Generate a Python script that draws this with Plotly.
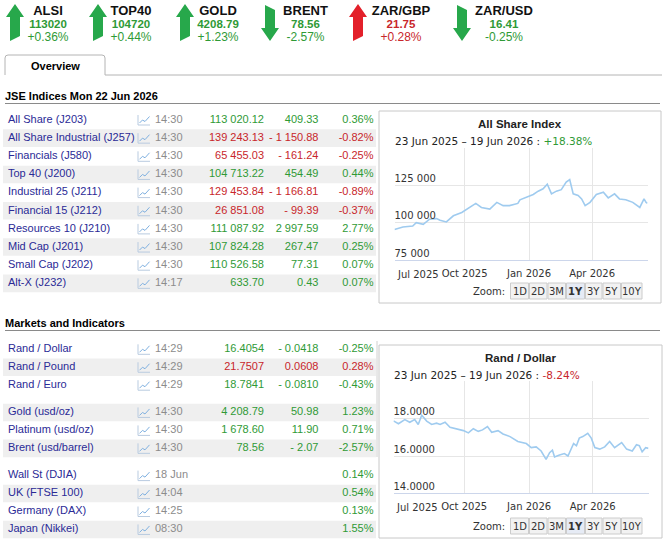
import plotly.graph_objects as go

W, H = 667, 543
PAGE_FONT = "Liberation Sans, Arial, sans-serif"
CHART_FONT = "DejaVu Sans, Verdana, sans-serif"
GREEN = "#2f9a36"
RED = "#c8262b"
NAVY = "#2a2a96"
GREY = "#8c8c8c"
BAND = "#efefef"
ARROW_GREEN = "#27a84b"
ARROW_RED = "#e3202a"

# ticker strip
ticker_names = ["ALSI", "TOP40", "GOLD", "BRENT", "ZAR/GBP", "ZAR/USD"]
ticker_prices = [113020, 104720, 4208.79, 78.56, 21.75, 16.41]
ticker_pcts = [0.36, 0.44, 1.23, -2.57, 0.28, -0.25]
ticker_good = [True, True, True, True, False, True]

# JSE indices
jse_names = ["All Share (J203)", "All Share Industrial (J257)", "Financials (J580)",
             "Top 40 (J200)", "Industrial 25 (J211)", "Financial 15 (J212)",
             "Resources 10 (J210)", "Mid Cap (J201)", "Small Cap (J202)", "Alt-X (J232)"]
jse_times = ["14:30", "14:30", "14:30", "14:30", "14:30", "14:30", "14:30", "14:30", "14:30", "14:17"]
jse_values = [113020.12, 139243.13, 65455.03, 104713.22, 129453.84, 26851.08,
              111087.92, 107824.28, 110526.58, 633.70]
jse_changes = [409.33, -1150.88, -161.24, 454.49, -1166.81, -99.39, 2997.59, 267.47, 77.31, 0.43]
jse_pcts = [0.36, -0.82, -0.25, 0.44, -0.89, -0.37, 2.77, 0.25, 0.07, 0.07]

# markets and indicators
mkt_names = ["Rand / Dollar", "Rand / Pound", "Rand / Euro", "Gold (usd/oz)", "Platinum (usd/oz)",
             "Brent (usd/barrel)", "Wall St (DJIA)", "UK (FTSE 100)", "Germany (DAX)", "Japan (Nikkei)"]
mkt_group = [0, 0, 0, 1, 1, 1, 2, 2, 2, 2]
mkt_times = ["14:29", "14:29", "14:29", "14:30", "14:30", "14:30", "18 Jun", "14:04", "14:25", "08:30"]
mkt_values = [16.4054, 21.7507, 18.7841, 4208.79, 1678.60, 78.56, None, None, None, None]
mkt_changes = [-0.0418, 0.0608, -0.0810, 50.98, 11.90, -2.07, None, None, None, None]
mkt_decimals = [4, 4, 4, 2, 2, 2, 2, 2, 2, 2]
mkt_pcts = [-0.25, 0.28, -0.43, 1.23, 0.71, -2.57, 0.14, 0.54, 0.13, 1.55]
mkt_good = [True, False, True, True, True, True, True, True, True, True]

# All Share Index, 1Y
alsi_dates = ["2025-06-23", "2025-07-05", "2025-07-19", "2025-07-24", "2025-08-03", "2025-08-12",
              "2025-08-22", "2025-08-27", "2025-09-05", "2025-09-15", "2025-09-27", "2025-10-08",
              "2025-10-17", "2025-10-25", "2025-11-06", "2025-11-16", "2025-11-25", "2025-12-04",
              "2025-12-16", "2025-12-19", "2025-12-28", "2026-01-07", "2026-01-14", "2026-01-21",
              "2026-01-27", "2026-02-02", "2026-02-09", "2026-02-16", "2026-02-23", "2026-02-28",
              "2026-03-05", "2026-03-12", "2026-03-17", "2026-03-22", "2026-03-29", "2026-04-07",
              "2026-04-17", "2026-04-24", "2026-05-03", "2026-05-10", "2026-05-19", "2026-05-29",
              "2026-06-08", "2026-06-14", "2026-06-17", "2026-06-19"]
alsi_values = [95470, 97070, 97750, 100000, 98900, 102300, 102700, 101600, 100500, 104600,
               106800, 110200, 112900, 110200, 109100, 113600, 111400, 111400, 112900, 115300,
               117000, 118900, 121100, 122700, 125700, 119300, 121100, 122100, 127200, 128900,
               119300, 118200, 115900, 111400, 113600, 118900, 120400, 116600, 119300, 115900,
               115300, 113600, 110200, 115900, 113600, 113020]
alsi_change = 18.38

# Rand / Dollar, 1Y
zar_dates = ["2025-06-23", "2025-06-30", "2025-07-09", "2025-07-16", "2025-07-23", "2025-07-28",
             "2025-08-02", "2025-08-09", "2025-08-16", "2025-08-23", "2025-08-28", "2025-09-04",
             "2025-09-11", "2025-09-21", "2025-09-30", "2025-10-07", "2025-10-14", "2025-10-21",
             "2025-10-27", "2025-11-03", "2025-11-09", "2025-11-18", "2025-11-25", "2025-12-05",
             "2025-12-16", "2025-12-28", "2026-01-04", "2026-01-11", "2026-01-18", "2026-01-25",
             "2026-01-30", "2026-02-03", "2026-02-06", "2026-02-13", "2026-02-20", "2026-02-25",
             "2026-03-02", "2026-03-05", "2026-03-09", "2026-03-13", "2026-03-18", "2026-03-25",
             "2026-03-30", "2026-04-04", "2026-04-11", "2026-04-18", "2026-04-25", "2026-05-02",
             "2026-05-12", "2026-05-19", "2026-05-27", "2026-06-02", "2026-06-06", "2026-06-10",
             "2026-06-15", "2026-06-19"]
zar_values = [17.88, 17.73, 17.95, 17.81, 17.95, 17.69, 18.18, 17.87, 17.69, 17.76, 17.69, 17.81,
              17.54, 17.46, 17.36, 17.24, 17.46, 17.32, 17.40, 17.58, 17.27, 17.36, 17.18, 17.04,
              16.78, 16.67, 16.45, 16.49, 16.27, 15.82, 16.18, 16.31, 15.95, 16.05, 16.13, 16.00,
              16.45, 16.67, 16.55, 16.96, 17.04, 17.22, 16.96, 16.45, 16.37, 16.49, 16.78, 16.45,
              16.72, 16.37, 16.27, 16.60, 16.55, 16.23, 16.45, 16.41]
zar_change = -8.24

zoom_buttons = ["1D", "2D", "3M", "1Y", "3Y", "5Y", "10Y"]
zoom_active = "1Y"


def fmt_num(v, dec):
    if v is None:
        return ""
    s = f"{abs(v):,.{dec}f}".replace(",", " ")
    return "- " + s if v < 0 else s


def dom_x(a, b):
    return [a / W, b / W]


def dom_y(top, bottom):
    return [1 - bottom / H, 1 - top / H]


fig = go.Figure()
shapes = []
annotations = []


def text_trace(xs, ys, texts, colors, pos, size=11, bold=False, family=PAGE_FONT):
    if bold:
        texts = [f"<b>{t}</b>" for t in texts]
    fig.add_trace(go.Scatter(x=xs, y=ys, text=texts, mode="text", textposition=pos,
                             textfont=dict(color=colors, size=size, family=family),
                             cliponaxis=False, hoverinfo="skip", showlegend=False,
                             xaxis="x", yaxis="y"))


def note(x, y, text, size=11, color="#000", xanchor="left", family=PAGE_FONT, xref="x"):
    annotations.append(dict(x=x, y=y, xref=xref, yref="y", text=text, showarrow=False,
                            xanchor=xanchor, yanchor="middle",
                            font=dict(size=size, color=color, family=family)))


# ---- ticker strip
tick_left = [6, 89, 176, 261, 349, 453]
tick_center = [48, 131, 218, 305.5, 401, 504]
tick_col = [GREEN if g else RED for g in ticker_good]
for i, p in enumerate(ticker_pcts):
    x0 = tick_left[i]
    fill = ARROW_GREEN if ticker_good[i] else ARROW_RED
    if p >= 0:
        path = (f"M{x0+9},4 L{x0+18},17 L{x0+14},17 L{x0+14},36 L{x0+4},41 "
                f"L{x0+4},17 L{x0},17 Z")
    else:
        path = (f"M{x0+4},5 L{x0+14},10 L{x0+14},28 L{x0+18},28 L{x0+9},41 "
                f"L{x0},28 L{x0+4},28 Z")
    shapes.append(dict(type="path", path=path, xref="x", yref="y",
                       fillcolor=fill, line=dict(width=0)))
text_trace(tick_center, [11.5] * 6, ticker_names, "#111", "middle center", size=13, bold=True)
text_trace(tick_center, [25] * 6, [f"{v:g}" for v in ticker_prices], tick_col,
           "middle center", size=11.5, bold=True)
text_trace(tick_center, [37.5] * 6, [f"{p:+.2f}%" for p in ticker_pcts], tick_col,
           "middle center", size=12)

# ---- tab
shapes.append(dict(type="path", xref="x", yref="y",
                   path="M5,75 L5,58 Q5,55 8,55 L102,55 Q105,55 105,58 L105,75",
                   line=dict(color="#b4b4b4", width=1), fillcolor="white"))
shapes.append(dict(type="line", xref="x", yref="y", x0=105, x1=662, y0=75, y1=75,
                   line=dict(color="#b4b4b4", width=1)))
note(55, 66, "<b>Overview</b>", size=11, xanchor="center")

# ---- section headers
for title, y in [("JSE Indices Mon 22 Jun 2026", 96), ("Markets and Indicators", 323)]:
    note(3, y, f"<b>{title}</b>", size=11)
    shapes.append(dict(type="line", xref="x", yref="y", x0=5, x1=660, y0=y + 7.5, y1=y + 7.5,
                       line=dict(color="#8a8a8a", width=1)))


def icon(y):
    shapes.append(dict(type="path", xref="x", yref="y",
                       path=f"M138,{y-5} L138,{y+5} L150,{y+5}",
                       line=dict(color="#b9cbe0", width=1)))
    shapes.append(dict(type="path", xref="x", yref="y",
                       path=f"M139.5,{y+3} L142.5,{y} L145,{y+1.5} L149.5,{y-3.5}",
                       line=dict(color="#7fb0e0", width=1)))


def table(names, times, values, changes, pcts, colors, rows, decimals):
    for i, y in enumerate(rows):
        if i % 2 == 1:
            shapes.append(dict(type="rect", xref="x", yref="y", x0=3, x1=376,
                               y0=y - 8.8, y1=y + 8.8, fillcolor=BAND,
                               line=dict(width=0), layer="below"))
        icon(y)
    text_trace([8] * len(rows), rows, names, NAVY, "middle right")
    text_trace([155] * len(rows), rows, times, GREY, "middle right")
    text_trace([264] * len(rows), rows, [fmt_num(v, d) for v, d in zip(values, decimals)],
               colors, "middle left")
    text_trace([318.5] * len(rows), rows, [fmt_num(v, d) for v, d in zip(changes, decimals)],
               colors, "middle left")
    text_trace([373.5] * len(rows), rows, [f"{p:.2f}%" for p in pcts], colors, "middle left")


jse_rows = [120 + i * 18.15 for i in range(len(jse_names))]
table(jse_names, jse_times, jse_values, jse_changes, jse_pcts,
      [GREEN if c >= 0 else RED for c in jse_changes], jse_rows, [2] * len(jse_names))

mkt_rows = [349.3 + i * 17.95 + g * 9.3 for i, g in enumerate(mkt_group)]
table(mkt_names, mkt_times, mkt_values, mkt_changes, mkt_pcts,
      [GREEN if g else RED for g in mkt_good], mkt_rows, mkt_decimals)
shapes.append(dict(type="line", xref="x", yref="y", x0=377, x1=377, y0=341, y1=457,
                   line=dict(color="#d0d0d0", width=1)))


# ---- charts
def chart(n, dates, values, box, plot, yticks, ytext, title, change):
    bx0, by0, bx1, by1 = box
    px0, py0, px1, py1 = plot
    shapes.append(dict(type="rect", xref="x", yref="y", x0=bx0, x1=bx1, y0=by0, y1=by1,
                       line=dict(color="#c8c8c8", width=1)))
    fig.add_trace(go.Scatter(x=dates, y=values, mode="lines", xaxis=f"x{n}", yaxis=f"y{n}",
                             line=dict(color="#9fcbef", width=1.6), hoverinfo="skip",
                             showlegend=False))
    axis_font = dict(family=CHART_FONT, size=10, color="#333")
    fig.layout[f"xaxis{n}"] = dict(
        domain=dom_x(px0, px1), anchor=f"y{n}", type="date",
        range=[dates[0], dates[-1]],
        tickvals=["2025-10-01", "2026-01-01", "2026-04-01"],
        ticktext=["Oct 2025", "Jan 2026", "Apr 2026"],
        showgrid=True, gridcolor="#e6e6e6", gridwidth=1, zeroline=False,
        showline=True, linecolor="#ccd6eb", ticks="", tickfont=axis_font,
        ticklabelstandoff=4, fixedrange=True)
    fig.layout[f"yaxis{n}"] = dict(
        domain=dom_y(py0, py1), anchor=f"x{n}", range=[yticks[0], yticks[-1]],
        tickvals=yticks, ticktext=ytext, ticklabelposition="inside top",
        ticklabelstandoff=-3,
        showgrid=True, gridcolor="#e6e6e6", zeroline=False, showline=False,
        ticks="", tickfont=axis_font, fixedrange=True)
    cx = (bx0 + bx1) / 2
    note(cx, by0 + 12.5, f"<b>{title}</b>", size=11.5, xanchor="center",
         family="Liberation Sans, Arial, sans-serif", color="#222")
    col = GREEN if change >= 0 else RED
    note(px0 - 2, by0 + 29.5,
         f"23 Jun 2025 – 19 Jun 2026 : <span style='color:{col}'>{change:+.2f}%</span>",
         size=10.5, family=CHART_FONT, color="#222")
    note(dates[0], py1 + 14, "Jul 2025", size=10, family=CHART_FONT, color="#333",
         xref=f"x{n}")
    # zoom buttons
    yb = by1 - 12
    note(507, yb, "Zoom:", size=10, family=CHART_FONT, color="#333", xanchor="right")
    edges = [510, 529, 547.5, 566, 585, 602.5, 621, 642.5]
    for j, lab in enumerate(zoom_buttons):
        active = lab == zoom_active
        shapes.append(dict(type="rect", xref="x", yref="y", x0=edges[j] + 0.5,
                           x1=edges[j + 1] - 0.5, y0=yb - 8, y1=yb + 8,
                           fillcolor="#e6ebf5" if active else "#f2f2f2",
                           line=dict(color="#cccccc", width=1)))
        note((edges[j] + edges[j + 1]) / 2, yb, f"<b>{lab}</b>" if active else lab,
             size=10, family=CHART_FONT, color="#333", xanchor="center")


chart(2, alsi_dates, alsi_values, (379, 111, 661, 303), (394.5, 148, 647.5, 260),
      [75000, 100000, 125000, 150000], ["75 000", "100 000", "125 000", ""],
      "All Share Index", alsi_change)
chart(3, zar_dates, zar_values, (379, 345, 662, 538), (393.5, 381.3, 648.5, 493.4),
      [14, 16, 18, 20], ["14.0000", "16.0000", "18.0000", ""],
      "Rand / Dollar", zar_change)

fig.update_layout(
    width=W, height=H, autosize=False,
    margin=dict(l=0, r=0, t=0, b=0, pad=0),
    paper_bgcolor="white", plot_bgcolor="rgba(0,0,0,0)",
    showlegend=False,
    xaxis=dict(domain=[0, 1], range=[0, W], visible=False, fixedrange=True),
    yaxis=dict(domain=[0, 1], range=[H, 0], visible=False, fixedrange=True),
    shapes=shapes, annotations=annotations,
    font=dict(family=PAGE_FONT),
)

# the page body has a default 8px margin; drop it so the figure sits at the window corner
fig.write_html("out.html", config={"displayModeBar": False},
               post_script="document.body.style.margin='0px';")
